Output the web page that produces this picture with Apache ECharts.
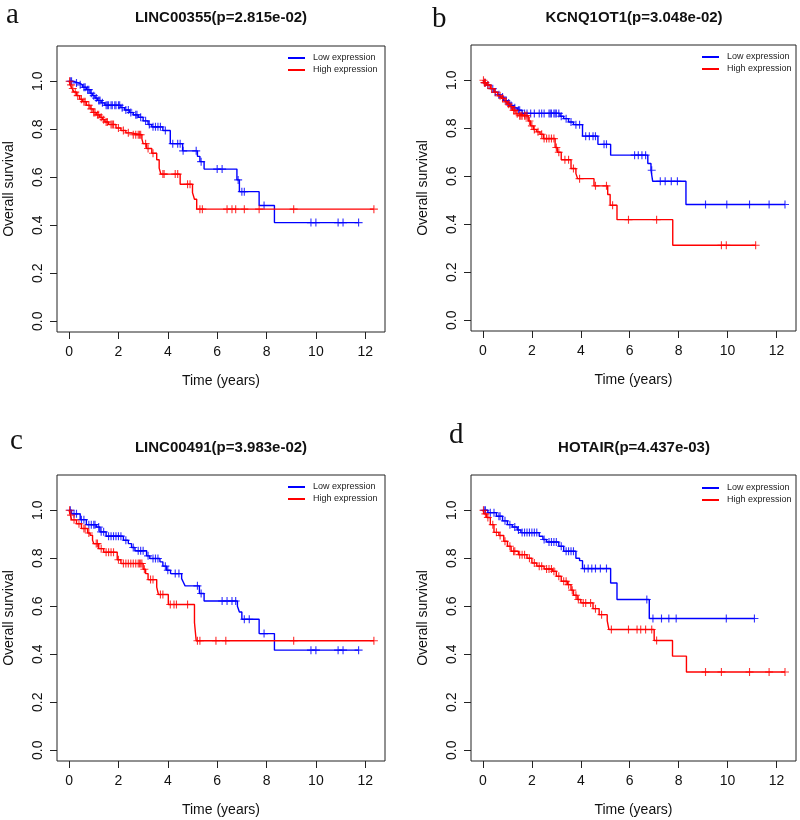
<!DOCTYPE html>
<html>
<head>
<meta charset="utf-8">
<script src="https://cdn.jsdelivr.net/npm/echarts@6/dist/echarts.min.js"></script>
<style>html,body{margin:0;padding:0;background:#fff}#c{width:800px;height:820px}</style>
</head>
<body>
<div id="c"></div>
<script>
// ---------- tick labels / categories ----------
const xTicks = [0, 2, 4, 6, 8, 10, 12];
const yTicks = [0.0, 0.2, 0.4, 0.6, 0.8, 1.0];
const seriesNames = ['Low expression', 'High expression'];
const panelLetters = ['a', 'b', 'c', 'd'];
const panelTitles = ['LINC00355(p=2.815e-02)', 'KCNQ1OT1(p=3.048e-02)', 'LINC00491(p=3.983e-02)', 'HOTAIR(p=4.437e-03)'];

// ---------- panel a: LINC00355 ----------
const aLowTime = [0.12,0.4,0.55,0.7,0.85,0.95,1.05,1.15,1.3,1.45,2.1,2.25,2.45,2.6,2.8,3.0,3.2,3.35,3.8,4.1,4.6,5.2,5.3,5.47,6.8,6.9,7.7,8.32];
const aLowSurv = [0.993,0.985,0.975,0.965,0.95,0.94,0.93,0.92,0.91,0.90,0.89,0.88,0.87,0.86,0.85,0.835,0.82,0.81,0.795,0.74,0.71,0.687,0.665,0.634,0.589,0.54,0.482,0.411];
const aLowCens = [0.05,0.1,0.3,0.45,0.6,0.65,0.75,0.8,0.9,1.0,1.1,1.2,1.25,1.35,1.5,1.55,1.6,1.7,1.75,1.85,1.9,2.0,2.05,2.15,2.3,2.4,2.5,2.7,2.75,2.9,3.1,3.25,3.4,3.5,3.6,3.7,3.9,4.2,4.4,4.5,4.62,5.15,5.35,6.0,6.2,6.85,7.0,7.1,7.9,9.8,10.0,10.9,11.1,11.73];
const aHighTime = [0.05,0.12,0.2,0.3,0.43,0.55,0.7,0.85,0.97,1.1,1.24,1.35,1.45,1.6,1.9,2.1,2.3,2.5,2.95,3.0,3.14,3.35,3.55,3.65,3.72,4.5,5.0,5.08,5.17];
const aHighSurv = [0.985,0.97,0.955,0.94,0.925,0.915,0.90,0.885,0.87,0.86,0.85,0.84,0.83,0.82,0.805,0.795,0.785,0.777,0.76,0.74,0.72,0.70,0.673,0.638,0.613,0.571,0.536,0.508,0.467];
const aHighCens = [0.02,0.08,0.15,0.25,0.35,0.5,0.6,0.65,0.8,0.9,1.0,1.05,1.15,1.2,1.3,1.4,1.5,1.55,1.7,1.75,1.8,2.0,2.2,2.4,2.6,2.7,2.8,2.85,2.9,3.1,3.2,3.4,3.8,3.85,4.3,4.4,4.8,4.9,5.3,5.4,6.4,6.6,6.75,7.1,7.7,9.1,12.35];

// ---------- panel b: KCNQ1OT1 ----------
const bLowTime = [0.05,0.15,0.3,0.45,0.6,0.7,0.85,1.0,1.1,1.25,1.4,1.6,3.15,3.3,3.5,3.7,4.07,4.7,5.22,6.74,6.87,6.94,8.3];
const bLowSurv = [0.99,0.98,0.965,0.95,0.94,0.93,0.915,0.905,0.895,0.885,0.875,0.862,0.85,0.84,0.826,0.815,0.767,0.733,0.688,0.653,0.625,0.579,0.482];
const bLowCens = [0.08,0.2,0.4,0.5,0.65,0.8,0.95,1.05,1.15,1.3,1.45,1.5,1.7,1.8,1.95,2.1,2.3,2.4,2.5,2.7,2.75,2.8,2.9,2.95,3.0,3.1,3.2,3.4,3.6,3.8,3.95,4.2,4.35,4.5,4.6,4.95,5.05,6.2,6.35,6.5,6.65,6.9,7.25,7.45,7.7,7.95,9.1,9.97,10.9,11.7,12.35];
const bHighTime = [0.05,0.15,0.3,0.45,0.6,0.75,0.9,1.0,1.1,1.2,1.35,1.45,1.85,1.95,2.06,2.2,2.33,2.47,2.95,3.04,3.2,3.6,3.8,3.87,4.54,5.1,5.2,5.48,7.76];
const bHighSurv = [0.99,0.98,0.965,0.95,0.935,0.925,0.91,0.90,0.89,0.875,0.86,0.852,0.83,0.81,0.795,0.785,0.775,0.757,0.72,0.70,0.669,0.632,0.611,0.59,0.56,0.524,0.479,0.419,0.3125];
const bHighCens = [0.02,0.06,0.1,0.2,0.35,0.5,0.7,0.8,0.95,1.05,1.15,1.25,1.3,1.4,1.5,1.55,1.6,1.7,1.75,1.8,1.9,2.0,2.1,2.25,2.4,2.5,2.6,2.7,2.8,2.9,3.0,3.1,3.35,3.5,3.7,3.95,4.6,5.05,5.3,5.95,7.1,9.75,9.95,11.15];

// ---------- panel c: LINC00491 ----------
const cLowTime = [0.1,0.45,0.7,1.1,1.25,1.5,2.2,2.4,2.53,2.67,3.14,3.27,3.68,3.8,3.95,4.11,4.56,4.63,4.7,5.28,5.47,6.82,6.9,7.0,7.7,8.32];
const cLowSurv = [0.985,0.961,0.94,0.93,0.91,0.892,0.875,0.861,0.845,0.831,0.81,0.799,0.785,0.767,0.75,0.736,0.715,0.70,0.685,0.653,0.622,0.60,0.576,0.546,0.486,0.417];
const cLowCens = [0.05,0.2,0.3,0.5,0.6,0.8,0.9,1.0,1.05,1.2,1.3,1.4,1.6,1.7,1.8,1.9,2.0,2.1,2.3,2.6,2.8,2.9,3.0,3.2,3.4,3.5,3.6,3.9,4.0,4.3,4.45,5.2,5.35,6.2,6.4,6.6,6.75,7.1,7.3,7.9,9.8,10.0,10.9,11.1,11.73];
const cHighTime = [0.05,0.1,0.3,0.5,0.75,0.85,0.95,1.0,1.2,1.4,1.95,2.1,3.0,3.1,3.2,3.55,3.62,4.02,5.08,5.15];
const cHighSurv = [0.98,0.96,0.944,0.924,0.905,0.896,0.875,0.861,0.84,0.825,0.794,0.778,0.754,0.736,0.711,0.68,0.649,0.607,0.532,0.456];
const cHighCens = [0.02,0.08,0.2,0.4,0.6,0.65,0.8,1.1,1.15,1.3,1.5,1.6,1.7,1.8,2.0,2.2,2.3,2.4,2.5,2.6,2.7,2.8,2.85,2.9,2.95,3.05,3.3,3.4,3.7,3.8,4.1,4.25,4.35,4.8,5.2,5.3,5.95,6.35,9.1,12.35];

// ---------- panel d: HOTAIR ----------
const dLowTime = [0.2,0.55,0.8,1.0,1.2,1.4,1.55,2.3,2.45,2.6,3.1,3.3,3.8,3.95,4.07,5.22,5.48,6.8];
const dLowSurv = [0.99,0.975,0.956,0.94,0.93,0.918,0.907,0.892,0.878,0.868,0.85,0.829,0.80,0.79,0.757,0.697,0.628,0.549];
const dLowCens = [0.05,0.1,0.3,0.45,0.65,0.7,0.9,1.1,1.3,1.45,1.6,1.7,1.8,1.9,2.0,2.1,2.2,2.5,2.7,2.8,2.9,3.0,3.2,3.4,3.5,3.6,3.7,4.15,4.3,4.45,4.6,4.8,5.05,6.7,6.95,7.3,7.6,7.9,9.95,11.1];
const dHighTime = [0.05,0.15,0.3,0.45,0.65,0.85,1.0,1.15,1.45,1.8,2.0,2.2,2.5,2.85,3.0,3.2,3.45,3.6,3.7,3.85,4.0,4.5,4.75,5.08,5.15,7.0,7.75,8.32];
const dHighSurv = [0.985,0.97,0.94,0.908,0.895,0.871,0.85,0.829,0.815,0.80,0.78,0.767,0.755,0.746,0.725,0.704,0.69,0.667,0.646,0.628,0.614,0.59,0.565,0.54,0.503,0.457,0.392,0.326];
const dHighCens = [0.02,0.1,0.2,0.4,0.55,0.7,0.9,1.1,1.25,1.3,1.5,1.6,1.7,1.9,2.1,2.3,2.4,2.6,2.7,2.8,2.9,3.1,3.3,3.4,3.5,3.65,3.8,3.9,4.1,4.2,4.4,4.6,4.85,5.25,5.95,6.3,6.45,6.65,6.9,7.1,9.1,9.75,10.9,11.7,12.35];

// ---------- assembly ----------
const curves = [
  [[aLowTime, aLowSurv, aLowCens], [aHighTime, aHighSurv, aHighCens]],
  [[bLowTime, bLowSurv, bLowCens], [bHighTime, bHighSurv, bHighCens]],
  [[cLowTime, cLowSurv, cLowCens], [cHighTime, cHighSurv, cHighCens]],
  [[dLowTime, dLowSurv, dLowCens], [dHighTime, dHighSurv, dHighCens]]
];

const FONT = "'Liberation Sans', Arial, sans-serif";
const COLORS = ['#0000ff', '#ff0000'];
const grids = [
  {left: 57, top: 46, width: 328, height: 286},
  {left: 471, top: 45, width: 325, height: 286},
  {left: 57, top: 475, width: 328, height: 286},
  {left: 471, top: 475, width: 325, height: 286}
];
const legendPos = [[288, 53], [702, 52], [288, 482], [702, 483]];
const titlePos = [[221, 18], [634, 18], [221, 448], [634, 448]];
const letterPos = [[6, 15], [432, 19], [10, 441], [449, 435]];

function stepData(t, s, c) {
  const end = Math.max(...c, t[t.length - 1]);
  const pts = [[0, 1]];
  t.forEach((v, i) => pts.push([v, s[i]]));
  pts.push([end, s[s.length - 1]]);
  return pts;
}
function survAt(t, s, x) {
  let v = 1;
  for (let i = 0; i < t.length; i++) if (t[i] <= x) v = s[i];
  return v;
}

const PLUS = 'path://M0,4.3H10V5.7H0Z M4.3,0H5.7V10H4.3Z';

const option = {
  animation: false,
  backgroundColor: '#fff',
  grid: grids.map(g => Object.assign({show: true, borderColor: '#222', borderWidth: 1, backgroundColor: 'transparent'}, g)),
  xAxis: grids.map((g, i) => ({
    gridIndex: i, type: 'value', min: -0.49, max: 12.8,
    axisLine: {show: false, onZero: false}, splitLine: {show: false},
    axisTick: {show: true, customValues: xTicks, length: 7, lineStyle: {color: '#222'}},
    axisLabel: {customValues: xTicks, margin: 13, fontSize: 14, color: '#111', fontFamily: FONT},
    name: 'Time (years)', nameLocation: 'middle', nameGap: 42, nameMoveOverlap: false,
    nameTextStyle: {fontSize: 14, color: '#111', fontFamily: FONT}
  })),
  yAxis: grids.map((g, i) => ({
    gridIndex: i, type: 'value', min: -0.045, max: 1.147,
    axisLine: {show: false, onZero: false}, splitLine: {show: false},
    axisTick: {show: true, customValues: yTicks, length: 7, lineStyle: {color: '#222'}},
    axisLabel: {customValues: yTicks, rotate: 90, margin: 12, fontSize: 14, color: '#111', fontFamily: FONT,
      formatter: v => v.toFixed(1)},
    name: 'Overall survival', nameLocation: 'middle', nameGap: 41, nameRotate: 90, nameMoveOverlap: false,
    nameTextStyle: {fontSize: 14, color: '#111', fontFamily: FONT}
  })),
  legend: grids.map((g, i) => ({
    data: seriesNames, left: legendPos[i][0], top: legendPos[i][1], orient: 'vertical',
    icon: 'rect', itemWidth: 17, itemHeight: 2, itemGap: 2, padding: 0, selectedMode: false,
    textStyle: {fontSize: 9, color: '#222', fontFamily: FONT, lineHeight: 10, padding: [0, 0, 0, 3]}
  })),
  series: [],
  graphic: []
};

curves.forEach((pair, i) => {
  pair.forEach((cv, k) => {
    const [t, s, c] = cv;
    option.series.push({
      name: seriesNames[k], type: 'line', step: 'end', xAxisIndex: i, yAxisIndex: i,
      data: stepData(t, s, c), showSymbol: false, symbol: 'none', color: COLORS[k],
      lineStyle: {width: 1.4, color: COLORS[k]}, silent: true, z: 2 + k
    });
    option.series.push({
      name: seriesNames[k] + ' censored', type: 'scatter', xAxisIndex: i, yAxisIndex: i,
      data: c.map(x => [x, survAt(t, s, x)]), symbol: PLUS, symbolSize: 8,
      itemStyle: {color: COLORS[k]}, silent: true, z: 2 + k
    });
  });
  option.graphic.push({
    type: 'text', style: {text: panelTitles[i], x: titlePos[i][0], y: titlePos[i][1],
      textAlign: 'center', textVerticalAlign: 'middle', font: "bold 15px 'Liberation Sans', Arial, sans-serif", fill: '#111'}
  });
  option.graphic.push({
    type: 'text', style: {text: panelLetters[i], x: letterPos[i][0], y: letterPos[i][1],
      textAlign: 'left', textVerticalAlign: 'middle', font: "29px 'Liberation Serif', 'Times New Roman', serif", fill: '#111'}
  });
});

const chart = echarts.init(document.getElementById('c'), null, {renderer: 'canvas'});
chart.setOption(option);
</script>
</body>
</html>
